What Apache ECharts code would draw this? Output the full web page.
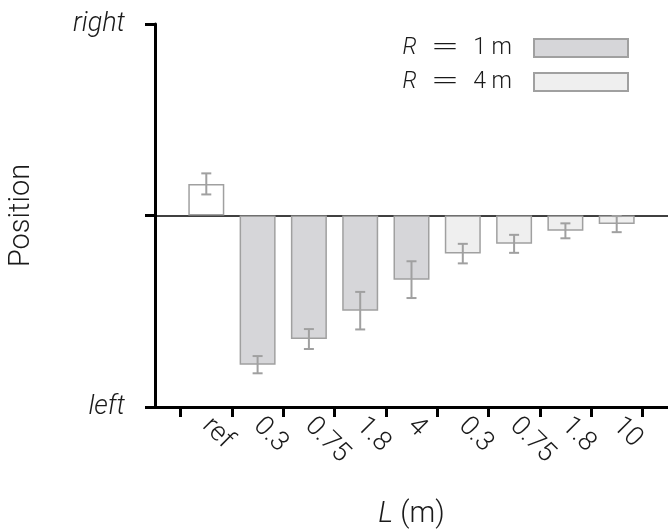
<!DOCTYPE html>
<html>
<head>
<meta charset="utf-8">
<script src="https://cdn.jsdelivr.net/npm/echarts@6/dist/echarts.min.js"></script>
<style>html,body{margin:0;padding:0;background:#fff;}#c{width:668px;height:529px;}</style>
</head>
<body>
<div id="c"></div>
<script>
// ---- data ----
const refLabel = 'ref';
const refMean = 0.165;
const refErr = 0.055;
const lengthsR1 = ['0.3', '0.75', '1.8', '4'];
const meansR1 = [-0.779, -0.645, -0.497, -0.335];
const errR1 = [0.045, 0.052, 0.098, 0.096];
const lengthsR4 = ['0.3', '0.75', '1.8', '10'];
const meansR4 = [-0.199, -0.148, -0.080, -0.045];
const errR4 = [0.051, 0.047, 0.039, 0.042];
const yTickLabels = {'1': 'right', '-1': 'left'};
const seriesNames = ['R = 1 m', 'R = 4 m'];

// ---- derived ----
const categories = [refLabel].concat(lengthsR1, lengthsR4);
const centers = categories.map((c, i) => i + 0.5);
const boundaries = categories.map((c, i) => i).concat([categories.length]);
const refData = [[centers[0], refMean]];
const r1Data = meansR1.map((v, i) => [centers[1 + i], v]);
const r4Data = meansR4.map((v, i) => [centers[1 + lengthsR1.length + i], v]);
const errData = [[centers[0], refMean, refErr]]
  .concat(meansR1.map((v, i) => [centers[1 + i], v, errR1[i]]))
  .concat(meansR4.map((v, i) => [centers[1 + lengthsR1.length + i], v, errR4[i]]));

const FONT = 'Roboto';
const TXT = '#1a1a1a';
const EDGE = '#a0a0a0';

const chart = echarts.init(document.getElementById('c'), null, {renderer: 'canvas'});
chart.setOption({
  animation: false,
  backgroundColor: '#fff',
  textStyle: {fontFamily: FONT, fontWeight: 300, color: TXT},
  grid: {left: 155, right: 0, top: 24, bottom: 122, containLabel: false, outerBoundsMode: 'none'},
  legend: {
    data: seriesNames,
    orient: 'vertical',
    align: 'right',
    right: 39,
    top: 31,
    padding: 0,
    itemWidth: 94,
    itemHeight: 18,
    itemGap: 0,
    icon: 'rect',
    formatter: function (name) {
      const m = name.match(/^(\S+) = (.*)$/);
      return '{i|' + m[1] + '}{e|=}{t|' + m[2] + '}';
    },
    textStyle: {
      fontSize: 23, color: TXT, fontFamily: FONT, fontWeight: 300, lineHeight: 24,
      rich: {
        i: {fontSize: 23, lineHeight: 24, fontStyle: 'italic', fontFamily: FONT, fontWeight: 300, color: TXT},
        e: {fontSize: 34, lineHeight: 24, fontFamily: 'DejaVu Sans', fontWeight: 200, color: TXT, padding: [0, 14, 0, 14]},
        t: {fontSize: 23, lineHeight: 24, fontFamily: FONT, fontWeight: 300, color: TXT, padding: [0, 17, 0, 0]}
      }
    }
  },
  xAxis: {
    type: 'value',
    min: -0.5,
    max: categories.length + 0.5,
    name: '{i|L} (m)',
    nameLocation: 'middle',
    nameGap: 93,
    nameTextStyle: {
      fontSize: 29, color: TXT, fontFamily: FONT, fontWeight: 300,
      rich: {i: {fontSize: 29, fontStyle: 'italic', fontFamily: FONT, fontWeight: 300, color: TXT}}
    },
    splitLine: {show: false},
    axisLine: {onZero: false, lineStyle: {color: '#000', width: 3}},
    axisTick: {show: true, length: 10, lineStyle: {color: '#000', width: 3}, customValues: boundaries},
    axisLabel: {
      customValues: centers,
      rotate: -45,
      margin: 15,
      fontSize: 27,
      color: TXT,
      fontFamily: FONT,
      fontWeight: 300,
      formatter: function (v) { return categories[Math.floor(v)]; }
    }
  },
  yAxis: {
    type: 'value',
    min: -1,
    max: 1,
    interval: 1,
    name: 'Position',
    nameLocation: 'middle',
    nameGap: 119,
    nameTextStyle: {fontSize: 29, color: TXT, fontFamily: FONT, fontWeight: 300},
    splitLine: {show: false},
    axisLine: {onZero: false, lineStyle: {color: '#000', width: 3}},
    axisTick: {show: true, length: 10, lineStyle: {color: '#000', width: 3}},
    axisLabel: {
      margin: 30,
      fontSize: 27,
      fontStyle: 'italic',
      color: TXT,
      fontFamily: FONT,
      fontWeight: 300,
      formatter: function (v) { return yTickLabels[String(v)] || ''; }
    }
  },
  series: [
    {
      name: 'ref',
      type: 'bar',
      data: refData,
      barWidth: 36,
      barGap: '-100%',
      z: 3,
      itemStyle: {color: '#ffffff', borderColor: EDGE, borderWidth: 1.5},
      markLine: {
        z: 1,
        silent: true,
        symbol: ['none', 'none'],
        label: {show: false},
        lineStyle: {color: '#000', width: 1.5, type: 'solid'},
        data: [{yAxis: 0}]
      }
    },
    {
      name: seriesNames[0],
      type: 'bar',
      data: r1Data,
      barWidth: 36,
      barGap: '-100%',
      z: 3,
      itemStyle: {color: '#d6d6d9', borderColor: EDGE, borderWidth: 1.5}
    },
    {
      name: seriesNames[1],
      type: 'bar',
      data: r4Data,
      barWidth: 36,
      barGap: '-100%',
      z: 3,
      itemStyle: {color: '#efefef', borderColor: EDGE, borderWidth: 1.5}
    },
    {
      name: 'err',
      type: 'custom',
      z: 4,
      silent: true,
      data: errData,
      encode: {x: 0, y: 1},
      renderItem: function (params, api) {
        const x = api.value(0), m = api.value(1), e = api.value(2);
        const hi = api.coord([x, m + e]);
        const lo = api.coord([x, m - e]);
        const hw = 5;
        const st = {stroke: EDGE, lineWidth: 2};
        return {
          type: 'group',
          children: [
            {type: 'line', shape: {x1: hi[0], y1: hi[1], x2: lo[0], y2: lo[1]}, style: st},
            {type: 'line', shape: {x1: hi[0] - hw, y1: hi[1], x2: hi[0] + hw, y2: hi[1]}, style: st},
            {type: 'line', shape: {x1: lo[0] - hw, y1: lo[1], x2: lo[0] + hw, y2: lo[1]}, style: st}
          ]
        };
      }
    }
  ]
});
</script>
</body>
</html>
